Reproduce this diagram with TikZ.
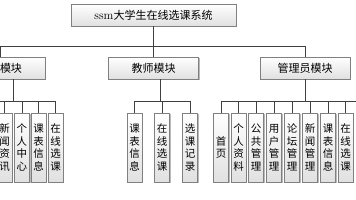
\documentclass[tikz,border=0pt]{standalone}
\usepackage{fontspec}
\newfontfamily\cjk{Noto Sans CJK SC}
\usetikzlibrary{shadows}
\begin{document}
\begin{tikzpicture}[x=1pt, y=-1pt]
        \tikzstyle{box}=[draw=black!50, top color=white, bottom color=black!12, drop shadow={shadow xshift=1pt, shadow yshift=-1pt, fill=black!45, opacity=0.6}, inner sep=0pt];
        \tikzstyle{module}=[box, minimum width=90pt, minimum height=22pt, font=\cjk\fontsize{11}{13}\selectfont];
        \tikzstyle{leaf}=[box, minimum width=15pt, minimum height=69pt, text width=12pt, align=center, font=\cjk\fontsize{10.5}{12.5}\selectfont];
        \tikzstyle{link}=[draw=black!75, line width=0.6pt];

        \useasboundingbox (0,0) rectangle (356,200);
        \clip (0,0) rectangle (356,200);

        % top and second level
        \node[module, minimum width=165pt] (root) at (153.5,15) {\rmfamily\fontsize{12}{13}\selectfont ssm\cjk\fontsize{11}{13}\selectfont 大学生在线选课系统};
        \node[module] (stu) at (0,68) {\hphantom{学生}模块};
        \node[module] (tea) at (153.5,68) {教师模块};
        \node[module] (adm) at (305,68) {管理员模块};

        % student leaves
        \node[leaf] (s1) at (4.5,147.5) {新\\闻\\资\\讯};
        \node[leaf] (s2) at (22,147.5) {个\\人\\中\\心};
        \node[leaf] (s3) at (38.5,147.5) {课\\表\\信\\息};
        \node[leaf] (s4) at (55.5,147.5) {在\\线\\选\\课};

        % teacher leaves
        \node[leaf] (t1) at (134.5,147.5) {课\\表\\信\\息};
        \node[leaf] (t2) at (162,147.5) {在\\线\\选\\课};
        \node[leaf] (t3) at (190,147.5) {选\\课\\记\\录};

        % admin leaves
        \node[leaf] (a1) at (221,147.5) {首\\页};
        \node[leaf] (a2) at (238.5,147.5) {个\\人\\资\\料};
        \node[leaf] (a3) at (256,147.5) {公\\共\\管\\理};
        \node[leaf] (a4) at (274,147.5) {用\\户\\管\\理};
        \node[leaf] (a5) at (292,147.5) {论\\坛\\管\\理};
        \node[leaf] (a6) at (310,147.5) {新\\闻\\管\\理};
        \node[leaf] (a7) at (328,147.5) {课\\表\\信\\息};
        \node[leaf] (a8) at (345.5,147.5) {在\\线\\选\\课};

        \coordinate (stubus) at (-10,101);
        \coordinate (admbus) at (366,101);

        \draw[link] (root.south) -- ++(0,20) -| (stu.north);
        \draw[link] (root.south) -- ++(0,20) -| (adm.north);
        \draw[link] (root.south) -- (tea.north);

        \draw[link] ([xshift=13pt]stu.south) -- ++(0,22) -| (s4.north);
        \draw[link] (stubus) -| (s1.north);
        \draw[link] (stubus) -| (s2.north);
        \draw[link] (stubus) -| (s3.north);

        \draw[link] ([xshift=6.5pt]tea.south) -- ++(0,22) -| (t1.north);
        \draw[link] ([xshift=6.5pt]tea.south) -- ++(0,22) -| (t3.north);
        \draw[link] ([xshift=6.5pt]tea.south) -- ++(0,22) -| (t2.north);

        \draw[link] (adm.south) -- ++(0,22) -| (a1.north);
        \draw[link] (adm.south |- admbus) -- (admbus);
        \foreach \i in {2,...,8}
            \draw[link] (a\i.north) -- (a\i.north |- admbus);
    \end{tikzpicture}
\end{document}
